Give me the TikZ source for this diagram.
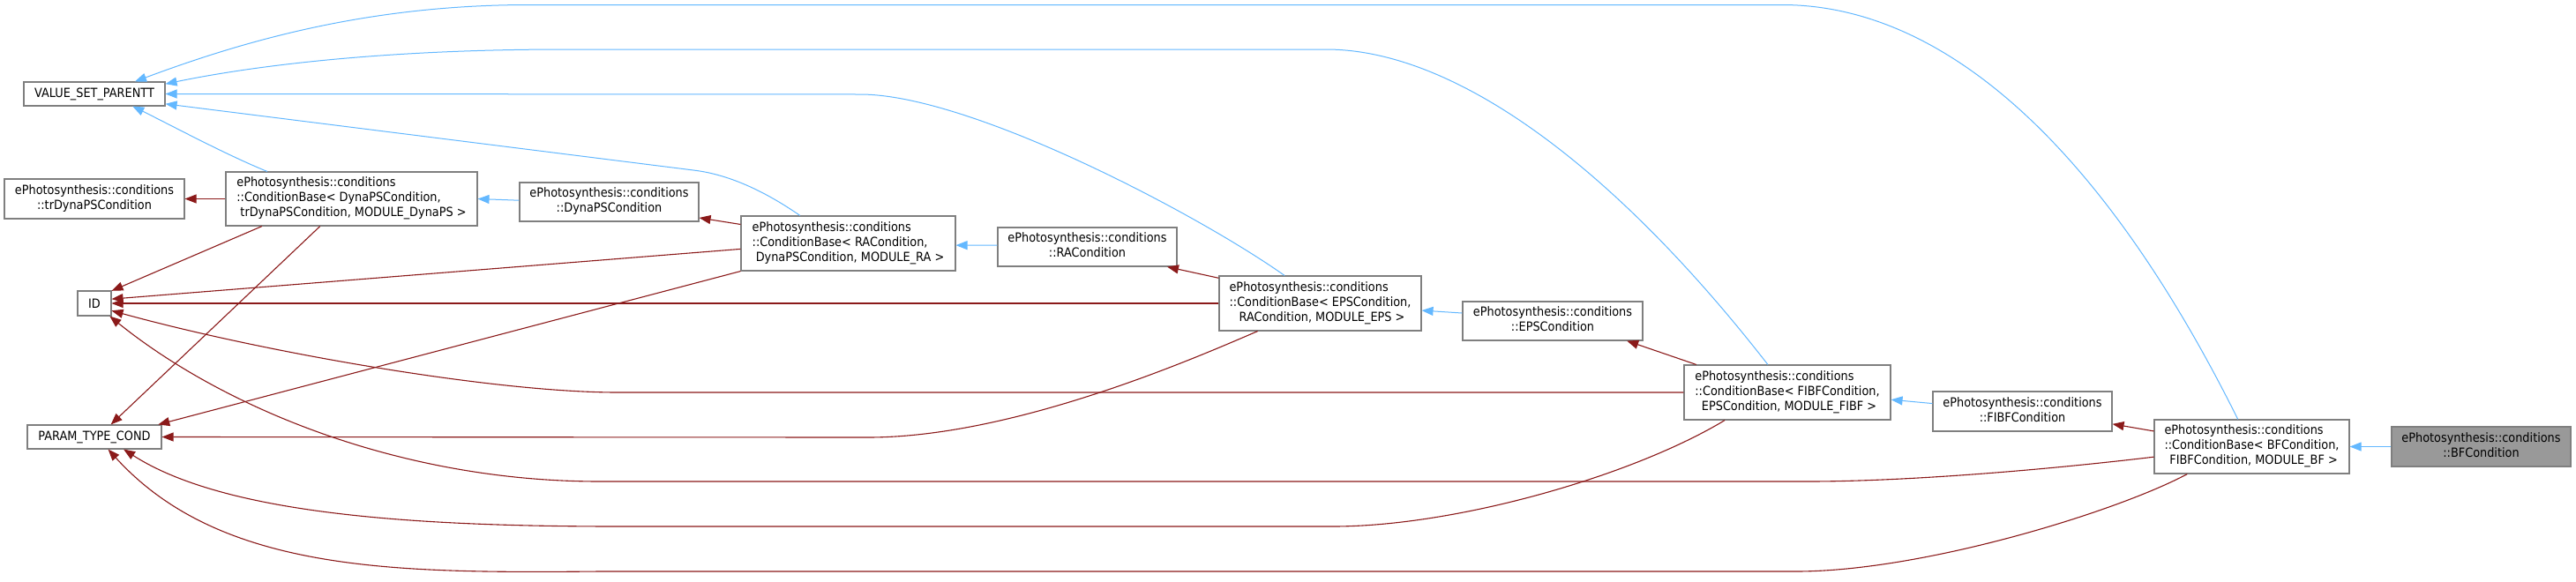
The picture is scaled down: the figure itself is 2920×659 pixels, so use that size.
\documentclass[tikz,border=0pt]{standalone}
\usepackage{fontspec}
\setmainfont{DejaVu Sans}[FakeStretch=0.9]
\usetikzlibrary{arrows.meta}
\definecolor{inhblue}{HTML}{63B8FF}
\definecolor{depred}{HTML}{8B1A1A}
\definecolor{boxgray}{HTML}{7F7F7F}
\definecolor{fillgray}{HTML}{999999}
\newcommand{\dxTwo}[2]{\begin{tabular}{@{}c@{}}#1\\#2\end{tabular}}
\newcommand{\dxThree}[3]{\begin{tabular}{@{}l@{}}#1\\#2\\\multicolumn{1}{@{}c@{}}{\ #3}\end{tabular}}
\tikzset{
  dxbox/.style={draw=boxgray, fill=white, line width=1.1pt, inner sep=0pt, text=black,
    font=\fontsize{14.3}{17}\selectfont},
  inhedge/.style={draw=inhblue, line width=1pt, -{Triangle[length=13pt,width=10pt]}},
  depedge/.style={draw=depred, line width=1.1pt, -{Triangle[length=13pt,width=10pt]}},
}
\begin{document}
\begin{tikzpicture}[x=1pt,y=-1pt]
\useasboundingbox (0,0) rectangle (2920,659);
\fill[white] (0,0) rectangle (2920,659);
% nodes
\node[dxbox, minimum width=160pt, minimum height=27pt] (VS) at (107,106.5) {VALUE\_SET\_PARENTT};
\node[dxbox, minimum width=204pt, minimum height=45pt] (TR) at (107,225.5) {\dxTwo{ePhotosynthesis::conditions}{::trDynaPSCondition}};
\node[dxbox, minimum width=285pt, minimum height=61pt] (CBD) at (398.5,225.5) {\dxThree{ePhotosynthesis::conditions}{::ConditionBase< DynaPSCondition,}{trDynaPSCondition, MODULE\_DynaPS >}};
\node[dxbox, minimum width=203pt, minimum height=44pt] (DYN) at (690.5,229) {\dxTwo{ePhotosynthesis::conditions}{::DynaPSCondition}};
\node[dxbox, minimum width=243pt, minimum height=62pt] (CBR) at (961.5,276) {\dxThree{ePhotosynthesis::conditions}{::ConditionBase< RACondition,}{DynaPSCondition, MODULE\_RA >}};
\node[dxbox, minimum width=203pt, minimum height=44pt] (RAC) at (1232.5,280) {\dxTwo{ePhotosynthesis::conditions}{::RACondition}};
\node[dxbox, minimum width=38pt, minimum height=28pt] (ID) at (107,344) {ID};
\node[dxbox, minimum width=229pt, minimum height=62pt] (CBE) at (1496.5,344) {\dxThree{ePhotosynthesis::conditions}{::ConditionBase< EPSCondition,}{RACondition, MODULE\_EPS >}};
\node[dxbox, minimum width=204pt, minimum height=44pt] (EPS) at (1760,364) {\dxTwo{ePhotosynthesis::conditions}{::EPSCondition}};
\node[dxbox, minimum width=234pt, minimum height=62pt] (CBF) at (2026,445) {\dxThree{ePhotosynthesis::conditions}{::ConditionBase< FIBFCondition,}{EPSCondition, MODULE\_FIBF >}};
\node[dxbox, minimum width=203pt, minimum height=45pt] (FIB) at (2292.5,466.5) {\dxTwo{ePhotosynthesis::conditions}{::FIBFCondition}};
\node[dxbox, minimum width=152pt, minimum height=27pt] (PAR) at (107,495.5) {PARAM\_TYPE\_COND};
\node[dxbox, minimum width=221pt, minimum height=61pt] (CBB) at (2552.5,506.5) {\dxThree{ePhotosynthesis::conditions}{::ConditionBase< BFCondition,}{FIBFCondition, MODULE\_BF >}};
\node[dxbox, fill=fillgray, minimum width=203pt, minimum height=45pt] (BF) at (2812.5,506.5) {\dxTwo{ePhotosynthesis::conditions}{::BFCondition}};
% inheritance edges (blue)
\draw[inhedge] (CBB.117) .. controls (2380,160) and (2200,5.5) .. (2020,5.5) -- (600,5.5) .. controls (420,5.5) and (280,45) .. (VS.17);
\draw[inhedge] (CBF.125.4) .. controls (1830,190) and (1650,56) .. (1503,56) -- (640,56) .. controls (450,56) and (300,72) .. (VS.8);
\draw[inhedge] (CBE.142.6) .. controls (1358,243) and (1100,107) .. (975,107) -- (VS.east);
\draw[inhedge] (CBR.150.8) .. controls (860,212) and (820,197) .. (786,193) -- (VS.-8);
\draw[inhedge] (CBD.162) .. controls (255,175) and (190,140) .. (VS.-18);
\draw[inhedge] (DYN.179.5) -- (CBD.-0.8);
\draw[inhedge] (RAC.179) -- (CBR.-1);
\draw[inhedge] (EPS.175.5) -- (CBE.-4.5);
\draw[inhedge] (FIB.175.2) -- (CBF.-4.8);
\draw[inhedge] (BF.west) -- (CBB.east);
% usage edges (red)
\draw[depedge] (CBD.west) -- (TR.east);
\draw[depedge] (CBR.170.2) -- (DYN.-10.6);
\draw[depedge] (CBE.166.3) -- (RAC.-14);
\draw[depedge] (CBF.163.6) -- (EPS.-15);
\draw[depedge] (CBB.171) -- (FIB.-8.7);
\draw[depedge] (CBD.197.5) -- (ID.36);
\draw[depedge] (CBR.183.3) -- (ID.14.7);
\draw[depedge] (CBE.west) -- (ID.east);
\draw[depedge] (CBF.west) -- (700,445) .. controls (560,445) and (300,400) .. (ID.-23);
\draw[depedge] (CBB.186.5) .. controls (2300,535) and (2150,546) .. (2050,546) -- (680,546) .. controls (450,546) and (250,460) .. (ID.-40);
\draw[depedge] (CBD.221.5) -- (PAR.37);
\draw[depedge] (CBR.south west) -- (PAR.11.7);
\draw[depedge] (CBE.204.7) .. controls (1357,405) and (1150,496) .. (984,496) -- (PAR.east);
\draw[depedge] (CBF.204.2) .. controls (1850,540) and (1650,597) .. (1511,597) -- (700,597) .. controls (450,597) and (250,580) .. (PAR.-23.5);
\draw[depedge] (CBB.203.4) .. controls (2400,580) and (2180,648) .. (2036,648) -- (680,648) .. controls (450,650) and (250,650) .. (PAR.-42);
\end{tikzpicture}
\end{document}
